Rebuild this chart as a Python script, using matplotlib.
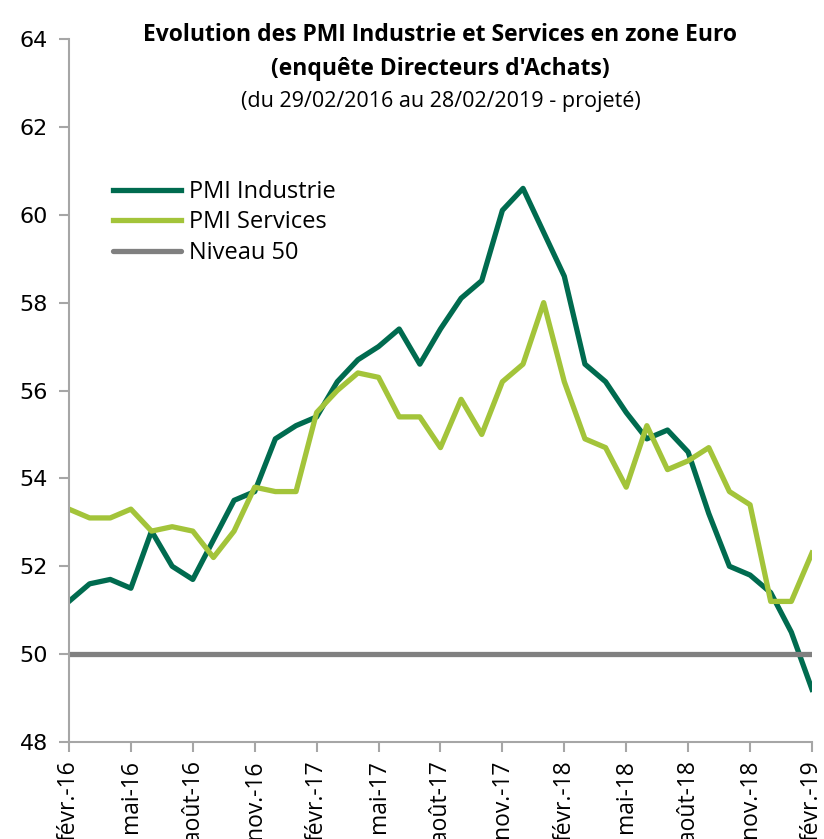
import numpy as np
import pandas as pd
import matplotlib
matplotlib.use('Agg')
import matplotlib.pyplot as plt

# ---------------- Data ----------------
months = pd.date_range('2016-02-01', '2019-02-01', freq='MS')
tick_labels = ['févr.-16', 'mai-16', 'août-16', 'nov.-16',
               'févr.-17', 'mai-17', 'août-17', 'nov.-17',
               'févr.-18', 'mai-18', 'août-18', 'nov.-18', 'févr.-19']

pmi_industrie = [51.2, 51.6, 51.7, 51.5, 52.8, 52.0, 51.7, 52.6, 53.5, 53.7, 54.9, 55.2,
                 55.4, 56.2, 56.7, 57.0, 57.4, 56.6, 57.4, 58.1, 58.5, 60.1, 60.6, 59.6,
                 58.6, 56.6, 56.2, 55.5, 54.9, 55.1, 54.6, 53.2, 52.0, 51.8, 51.4, 50.5,
                 49.2]
pmi_services = [53.3, 53.1, 53.1, 53.3, 52.8, 52.9, 52.8, 52.2, 52.8, 53.8, 53.7, 53.7,
                55.5, 56.0, 56.4, 56.3, 55.4, 55.4, 54.7, 55.8, 55.0, 56.2, 56.6, 58.0,
                56.2, 54.9, 54.7, 53.8, 55.2, 54.2, 54.4, 54.7, 53.7, 53.4, 51.2, 51.2,
                52.3]
niveau = [50] * len(months)

c_ind = '#006B4F'
c_srv = '#A3C43A'
c_niv = '#808080'
axis_col = '#A6A6A6'

# ---------------- Plot ----------------
fig = plt.figure(figsize=(8.24, 8.39), dpi=100)
ax = fig.add_axes([0.0837, 0.1156, 0.9017, 0.8379])

x = np.arange(len(months))
ax.plot(x, pmi_industrie, color=c_ind, lw=3.8, label='PMI Industrie', solid_joinstyle='round')
ax.plot(x, pmi_services, color=c_srv, lw=3.8, label='PMI Services', solid_joinstyle='round')
ax.plot(x, niveau, color=c_niv, lw=3.8, label='Niveau 50', solid_capstyle='round')

ax.set_xlim(0, len(months) - 1)
ax.set_ylim(48, 64)
ax.set_yticks(np.arange(48, 65, 2))
ax.set_xticks(x[::3])
ax.set_xticklabels(tick_labels, rotation=90, fontsize=16.5, family='Open Sans')
for lab in ax.get_yticklabels():
    lab.set_fontsize(16)

for s in ['top', 'right']:
    ax.spines[s].set_visible(False)
for s in ['left', 'bottom']:
    ax.spines[s].set_color(axis_col)
    ax.spines[s].set_linewidth(1.5)
ax.tick_params(axis='both', color=axis_col, width=1.5, length=7, direction='out')
ax.tick_params(axis='x', pad=6)
ax.tick_params(axis='y', pad=8)

# titles
ax.text(0.5, 1.005, 'Evolution des PMI Industrie et Services en zone Euro',
        transform=ax.transAxes, ha='center', va='center', fontsize=16.5,
        fontweight='bold', family='Open Sans')
ax.text(0.5, 0.958, "(enquête Directeurs d'Achats)", transform=ax.transAxes,
        ha='center', va='center', fontsize=16.5, fontweight='bold', family='Open Sans')
ax.text(0.5, 0.911, '(du 29/02/2016 au 28/02/2019 - projeté)', transform=ax.transAxes,
        ha='center', va='center', fontsize=15.5, family='Open Sans')

leg = ax.legend(loc='upper left', bbox_to_anchor=(0.03, 0.83), frameon=False,
                handlelength=2.9, handletextpad=0.35, labelspacing=0.28,
                prop={'family': 'Open Sans', 'size': 17})

fig.savefig('out.png', dpi=100)
